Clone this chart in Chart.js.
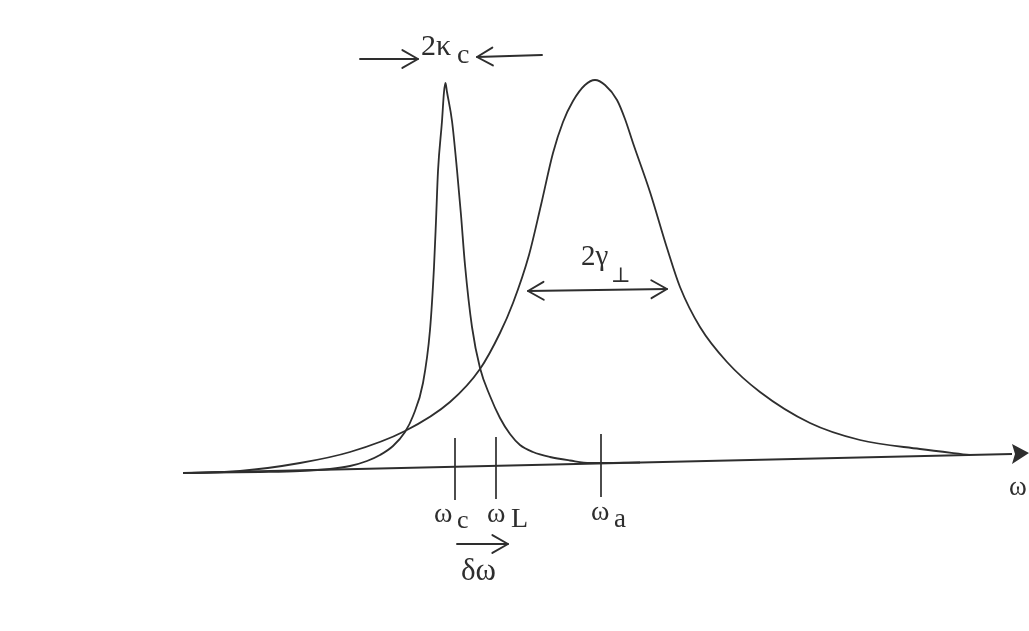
<!DOCTYPE html>
<html>
<head>
<meta charset="utf-8">
<script src="https://cdn.jsdelivr.net/npm/chart.js@4/dist/chart.umd.min.js"></script>
<style>
  body { margin: 0; background: #fff; }
  #wrap { width: 1029px; height: 631px; }
</style>
</head>
<body>
<div id="wrap"><canvas id="myChart"></canvas></div>
<script>
// Cavity line (narrow) and atomic line (broad) on a common frequency axis

// frequency, arbitrary units
const cavityFreq = [190, 260, 300, 330, 350, 367, 380, 393, 405, 413, 423, 430, 434, 436, 438, 442, 444, 445.5, 447, 452, 457, 461, 465, 472, 480, 490, 500, 510, 520, 533, 550, 570, 590, 640];
const cavityAmp = [0, 1, 2, 4, 7, 12, 18, 27, 41, 57, 90, 143, 206, 252, 302, 352, 381, 390, 381, 352, 303, 258, 208, 146, 105, 77, 55, 39, 28, 21, 16, 12.5, 10, 10.5];

const atomFreq = [183, 240, 300, 350, 405, 450, 480, 500, 513, 529, 541, 553, 563, 573, 585, 595, 605, 617, 625, 633, 650, 667, 680, 700, 727, 760, 810, 860, 920, 970];
const atomAmp = [0, 2, 10, 21, 42, 71, 104, 140, 170, 218, 268, 320, 351, 372, 388, 393, 388, 373, 354, 330, 281, 225, 186, 146, 111, 81, 50, 33, 24, 18];

// frequency axis (slightly sloped) and its arrow tip
const axisFreq = [183, 1012];
const axisLevel = [0, 19];
const axisTip = [1029, 20];

// marked frequencies and their tick extents
const omegaC = 455;
const omegaL = 496;
const omegaA = 601;
const tickTop = [35, 36, 39];
const tickBottom = [-27, -26, -24];

const ink = "#2e2e2e";

function line(xs, ys) {
  return xs.map((x, i) => ({ x: x, y: ys[i] }));
}

function tick(x, top, bottom) {
  return {
    data: [{ x: x, y: top }, { x: x, y: bottom }],
    borderColor: ink,
    borderWidth: 1.7,
    pointRadius: 0,
  };
}

const datasets = [
  {
    label: "cavity",
    data: line(cavityFreq, cavityAmp),
    borderColor: ink,
    borderWidth: 1.8,
    pointRadius: 0,
    cubicInterpolationMode: "monotone",
  },
  {
    label: "atom",
    data: line(atomFreq, atomAmp),
    borderColor: ink,
    borderWidth: 1.8,
    pointRadius: 0,
    cubicInterpolationMode: "monotone",
  },
  {
    label: "axis",
    data: line(axisFreq, axisLevel),
    borderColor: ink,
    borderWidth: 1.9,
    pointRadius: 0,
  },
  tick(omegaC, tickTop[0], tickBottom[0]),
  tick(omegaL, tickTop[1], tickBottom[1]),
  tick(omegaA, tickTop[2], tickBottom[2]),
];

// labels and arrows, placed in data units
const labels = [
  { text: "ω", x: 434, y: -49, size: 28 },
  { text: "c", x: 457, y: -55, size: 26 },
  { text: "ω", x: 487, y: -49, size: 28 },
  { text: "L", x: 511, y: -54, size: 28 },
  { text: "ω", x: 591, y: -47, size: 28 },
  { text: "a", x: 614, y: -54, size: 27 },
  { text: "δω", x: 461, y: -107, size: 31 },
  { text: "2κ", x: 421, y: 418, size: 30 },
  { text: "c", x: 457, y: 410, size: 28 },
  { text: "2γ", x: 581, y: 208, size: 29 },
  { text: "⊥", x: 611, y: 191, size: 21 },
  { text: "ω", x: 1009, y: -22, size: 27 },
];

const arrows = [
  { from: [457, -71], to: [508, -71], heads: ["end"] },
  { from: [360, 414], to: [418, 414], heads: ["end"] },
  { from: [542, 418], to: [477, 416], heads: ["end"] },
  { from: [528, 182], to: [667, 184], heads: ["start", "end"] },
];

function chevron(ctx, tx, ty, ang) {
  const len = 18;
  const spread = 0.52;
  ctx.beginPath();
  ctx.moveTo(tx - len * Math.cos(ang - spread), ty - len * Math.sin(ang - spread));
  ctx.lineTo(tx, ty);
  ctx.lineTo(tx - len * Math.cos(ang + spread), ty - len * Math.sin(ang + spread));
  ctx.stroke();
}

const sketchPlugin = {
  id: "sketch",
  afterDatasetsDraw(chart) {
    const ctx = chart.ctx;
    const xs = chart.scales.x;
    const ys = chart.scales.y;
    const px = (v) => xs.getPixelForValue(v);
    const py = (v) => ys.getPixelForValue(v);

    ctx.save();
    ctx.strokeStyle = ink;
    ctx.fillStyle = ink;
    ctx.lineWidth = 1.9;
    ctx.lineCap = "round";
    ctx.lineJoin = "round";

    // solid arrow tip of the frequency axis
    const bx = px(axisFreq[1]);
    const by = py(axisLevel[1]);
    ctx.beginPath();
    ctx.moveTo(px(axisTip[0]), py(axisTip[1]));
    ctx.lineTo(bx, by - 10);
    ctx.lineTo(bx + 3, by);
    ctx.lineTo(bx, by + 10);
    ctx.closePath();
    ctx.fill();

    arrows.forEach((a) => {
      const x1 = px(a.from[0]), y1 = py(a.from[1]);
      const x2 = px(a.to[0]), y2 = py(a.to[1]);
      ctx.beginPath();
      ctx.moveTo(x1, y1);
      ctx.lineTo(x2, y2);
      ctx.stroke();
      const ang = Math.atan2(y2 - y1, x2 - x1);
      if (a.heads.includes("end")) chevron(ctx, x2, y2, ang);
      if (a.heads.includes("start")) chevron(ctx, x1, y1, ang + Math.PI);
    });

    ctx.textAlign = "left";
    ctx.textBaseline = "alphabetic";
    labels.forEach((l) => {
      ctx.font = l.size + 'px "Liberation Serif", "DejaVu Serif", serif';
      ctx.fillText(l.text, px(l.x), py(l.y));
    });
    ctx.restore();
  },
};

const ctx = document.querySelector("#myChart");

const config = {
  type: "line",
  data: { datasets: datasets },
  options: {
    responsive: true,
    maintainAspectRatio: false,
    animation: false,
    layout: { padding: 0 },
    plugins: {
      legend: { display: false },
      tooltip: { enabled: false },
    },
    scales: {
      x: { type: "linear", min: 0, max: 1029, display: false },
      y: { type: "linear", min: -158, max: 473, display: false },
    },
  },
  plugins: [sketchPlugin],
};

const chart = new Chart(ctx, config);
</script>
</body>
</html>
